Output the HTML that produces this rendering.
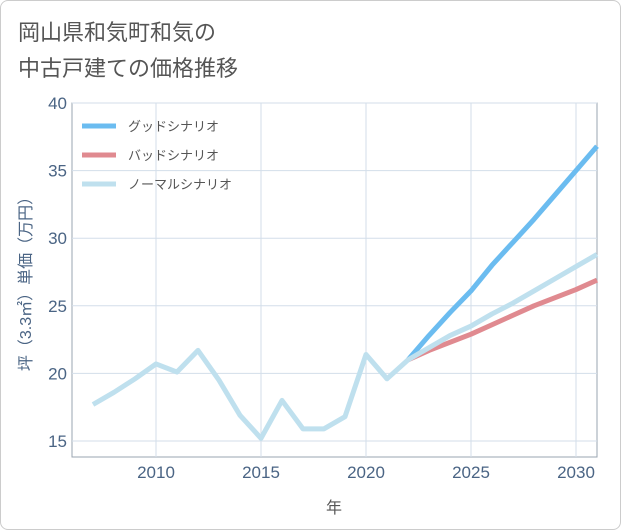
<!DOCTYPE html>
<html><head><meta charset="utf-8"><style>
body{margin:0;background:#fff;font-family:"Liberation Sans","Noto Sans CJK JP",sans-serif;}
#wrap{position:relative;width:619px;height:528px;border:1px solid #ccc;border-radius:8px;background:#fff;overflow:hidden}
</style></head><body>
<div id="wrap">
<svg id="chart" width="621" height="530" style="position:absolute;left:-1px;top:-1px">
<text x="18" y="40" font-size="22" fill="#555">岡山県和気町和気の</text>
<text x="18" y="76" font-size="22" fill="#555">中古戸建ての価格推移</text>
<g id="grid"></g><g id="series"></g>
<text x="334" y="513" font-size="16" fill="#555" text-anchor="middle">年</text>
<text transform="translate(31,280) rotate(-90)" font-size="16" fill="#4a6484" text-anchor="middle">坪（3.3㎡）単価（万円）</text>
<g id="legend"></g>
</svg></div>
<script>
const years=[2007,2008,2009,2010,2011,2012,2013,2014,2015,2016,2017,2018,2019,2020,2021,2022,2023,2024,2025,2026,2027,2028,2029,2030,2031];
const normalValues=[17.7,18.6,19.6,20.7,20.1,21.7,19.5,16.9,15.2,18.0,15.9,15.9,16.8,21.4,19.6,21.0,21.9,22.8,23.5,24.4,25.2,26.1,27.0,27.9,28.8];
const futureYears=[2022,2023,2024,2025,2026,2027,2028,2029,2030,2031];
const goodValues=[21.0,22.8,24.5,26.1,28.0,29.7,31.4,33.2,35.0,36.8];
const badValues=[21.0,21.7,22.3,22.9,23.6,24.3,25.0,25.6,26.2,26.9];
const xTicks=[2010,2015,2020,2025,2030];
const yTicks=[15,20,25,30,35,40];
const NS='http://www.w3.org/2000/svg';
const L=72,R=597,T=103,B=457;
const x=v=>L+(v-2006)*21;
const y=v=>T+(40-v)*13.52;
function mk(t,a,p){const e=document.createElementNS(NS,t);for(const k in a)e.setAttribute(k,a[k]);p.appendChild(e);return e;}
const g=document.getElementById('grid');
const frame=mk('rect',{x:L,y:T,width:R-L,height:B-T,fill:'none',stroke:'#9aa4b0'},g);


xTicks.forEach(t=>{const l=mk('line',{x1:x(t),x2:x(t),y1:T,y2:B,stroke:'#d3deea'},g);


const tx=mk('text',{x:x(t),y:B+21,'font-size':17,fill:'#4a6484','text-anchor':'middle'},g);tx.textContent=t;

});
yTicks.forEach(t=>{const l=mk('line',{x1:L,x2:R,y1:y(t),y2:y(t),stroke:'#d3deea'},g);


const tx=mk('text',{x:L-5,y:y(t)+6,'font-size':17,fill:'#4a6484','text-anchor':'end'},g);tx.textContent=t;

});
const s=document.getElementById('series');
function line(xs,vs,c,name){const p=mk('polyline',{points:xs.map((v,i)=>x(v)+','+y(vs[i])).join(' '),fill:'none',stroke:c,'stroke-width':5,'stroke-linejoin':'round'},s);

}
line(futureYears,goodValues,'#6bbcf0','good-scenario-line');
line(futureYears,badValues,'#e08a90','bad-scenario-line');
line(years,normalValues,'#bfe0ee','normal-scenario-line');
const lg=document.getElementById('legend');
[['グッドシナリオ','#6bbcf0'],['バッドシナリオ','#e08a90'],['ノーマルシナリオ','#bfe0ee']].forEach((d,i)=>{const yy=126+i*29;
const l=mk('line',{x1:82,x2:116,y1:yy,y2:yy,stroke:d[1],'stroke-width':5},lg);


const t=mk('text',{x:128,y:yy+5,'font-size':13,fill:'#555'},lg);t.textContent=d[0];

});
</script></body></html>
